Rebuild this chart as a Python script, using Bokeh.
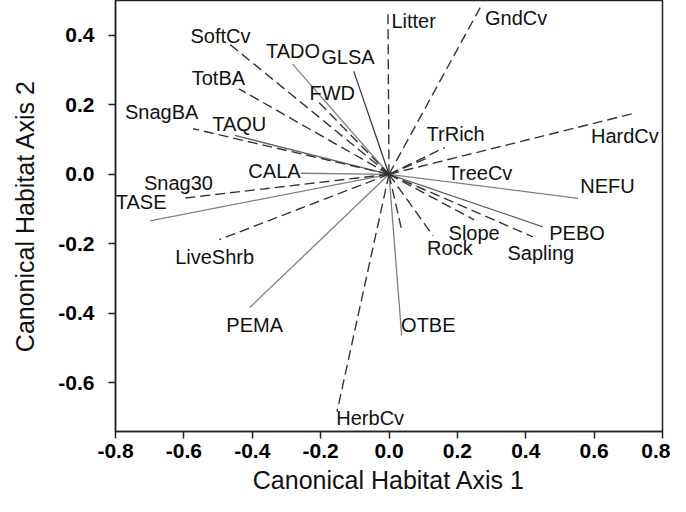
from bokeh.plotting import figure
from bokeh.models import ColumnDataSource, FixedTicker, PrintfTickFormatter, Range1d
from bokeh.core.properties import value
from bokeh.embed import file_html
from bokeh.resources import INLINE

# habitat variables (dashed vectors)
hab_names = ["SoftCv", "TotBA", "FWD", "SnagBA", "Snag30", "LiveShrb", "HerbCv", "Litter",
             "GndCv", "TrRich", "HardCv", "TreeCv", "Slope", "Rock", "Sapling", ""]
hab_x = [-0.468, -0.439, -0.209, -0.573, -0.602, -0.496, -0.152, -0.003,
         0.272, 0.163, 0.711, 0.120, 0.249, 0.129, 0.421, 0.037]
hab_y = [0.376, 0.246, 0.211, 0.131, -0.069, -0.188, -0.683, 0.471,
         0.489, 0.077, 0.174, 0.050, -0.131, -0.177, -0.180, -0.160]
hab_lab_x = [-0.493, -0.499, -0.166, -0.665, -0.616, -0.510, -0.055, 0.072,
             0.372, 0.195, 0.690, 0.266, 0.249, 0.178, 0.444, 0.0]
hab_lab_y = [0.397, 0.277, 0.234, 0.180, -0.026, -0.237, -0.700, 0.440,
             0.451, 0.117, 0.111, 0.003, -0.169, -0.211, -0.226, 0.0]

# species (solid vectors)
sp_names = ["TADO", "GLSA", "TAQU", "CALA", "TASE", "PEMA", "OTBE", "PEBO", "NEFU"]
sp_x = [-0.282, -0.103, -0.451, -0.258, -0.699, -0.407, 0.037, 0.450, 0.553]
sp_y = [0.317, 0.296, 0.112, 0.003, -0.134, -0.383, -0.463, -0.151, -0.069]
sp_lab_x = [-0.281, -0.120, -0.438, -0.335, -0.725, -0.393, 0.115, 0.550, 0.639]
sp_lab_y = [0.354, 0.337, 0.146, 0.009, -0.080, -0.434, -0.434, -0.169, -0.034]
sp_color = ["#808080", "#3a3a3a", "#606060", "#808080", "#808080", "#808080", "#808080", "#606060", "#808080"]

x_ticks = [-0.8, -0.6, -0.4, -0.2, 0.0, 0.2, 0.4, 0.6, 0.8]
y_ticks = [-0.6, -0.4, -0.2, 0.0, 0.2, 0.4]

p = figure(width=670, height=496, output_backend="svg", toolbar_location=None,
           x_range=Range1d(-0.8, 0.8), y_range=Range1d(-0.74, 0.5))
p.min_border_left = 115
p.min_border_right = 8
p.min_border_top = 0
p.min_border_bottom = 60
p.grid.visible = False
p.outline_line_color = "#222222"
p.outline_line_width = 1.5
p.background_fill_color = "white"
p.border_fill_color = "white"

hab = ColumnDataSource(dict(x0=[0.0] * len(hab_x), y0=[0.0] * len(hab_y), x1=hab_x, y1=hab_y,
                            lx=hab_lab_x, ly=hab_lab_y, name=hab_names))
sp = ColumnDataSource(dict(x0=[0.0] * len(sp_x), y0=[0.0] * len(sp_y), x1=sp_x, y1=sp_y,
                           lx=sp_lab_x, ly=sp_lab_y, name=sp_names, c=sp_color))

p.segment("x0", "y0", "x1", "y1", source=sp, line_color="c", line_width=1.3)
p.segment("x0", "y0", "x1", "y1", source=hab, line_color="#333333", line_width=1.4,
          line_dash="10 5")

for src in (hab, sp):
    p.text("lx", "ly", text="name", source=src, text_align="center", text_baseline="middle",
           text_font=value("Liberation Sans"), text_font_size="20px", text_color="#111111")

for ax in (p.xaxis[0], p.yaxis[0]):
    ax.major_label_text_font = "Liberation Sans"
    ax.major_label_text_font_style = "bold"
    ax.major_label_text_font_size = "21px"
    ax.major_label_text_color = "black"
    ax.axis_label_text_font = "Liberation Sans"
    ax.axis_label_text_font_style = "normal"
    ax.axis_label_text_font_size = "25px"
    ax.axis_label_text_color = "#111111"
    ax.minor_tick_line_color = None
    ax.major_tick_out = 7
    ax.major_tick_in = 0
    ax.axis_line_color = "#222222"
    ax.axis_line_width = 1.5
    ax.major_tick_line_color = "#222222"
    ax.major_tick_line_width = 1.5
    ax.formatter = PrintfTickFormatter(format="%.1f")

p.xaxis[0].ticker = FixedTicker(ticks=x_ticks)
p.yaxis[0].ticker = FixedTicker(ticks=y_ticks)
p.xaxis[0].axis_label = "Canonical Habitat Axis 1"
p.yaxis[0].axis_label = "Canonical Habitat Axis 2"
p.xaxis[0].major_label_standoff = 5
p.yaxis[0].major_label_standoff = 14
p.xaxis[0].axis_label_standoff = 5
p.yaxis[0].axis_label_standoff = 16

open("out.html", "w").write(file_html(p, INLINE))
